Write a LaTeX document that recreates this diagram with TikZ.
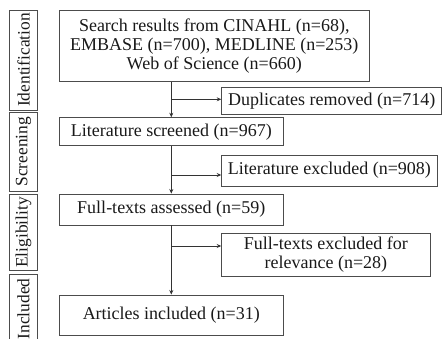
\documentclass[tikz,border=0pt]{standalone}
\usepackage{fontspec}
\setmainfont{Liberation Serif}
\usetikzlibrary{arrows.meta}
\begin{document}
\begin{tikzpicture}[x=1pt,y=1pt,
  box/.style={draw=black!70,line width=0.9pt,inner sep=0pt,align=center,font=\fontsize{18}{18.8}\selectfont,text=black!90},
  lab/.style={draw=black!70,line width=0.9pt,inner sep=0pt,rotate=90,font=\fontsize{17.4}{19}\selectfont,text=black!90},
  conn/.style={draw=black!80,line width=0.9pt},
  arr/.style={conn,-{Stealth[length=4.5pt,width=4pt]}}]
\useasboundingbox (0,0) rectangle (444,338);
% stage labels (rotated: minimum width = vertical extent)
\node[lab,minimum width=100,minimum height=28.4] (idlab) at (23.5,278) {Identification};
\node[lab,minimum width=79.7,minimum height=28.4] (scrlab) at (23.5,186.15) {Screening};
\node[lab,minimum width=76.7,minimum height=28.4] (elilab) at (23.5,105.65) {Eligibility};
\node[lab,minimum width=70,minimum height=28.4] (inclab) at (23.5,29) {Included};
% main boxes
\node[box,minimum width=310,minimum height=71.7] (b1) at (214.3,292.15) {Search results from CINAHL (n=68),\\EMBASE (n=700), MEDLINE (n=253)\\Web of Science (n=660)};
\node[box,minimum width=220,minimum height=26.6] (dup) at (331.7,237) {Duplicates removed (n=714)};
\node[box,minimum width=224,minimum height=28] (b2) at (171.3,206.3) {Literature screened (n=967)};
\node[box,minimum width=215.3,minimum height=31] (lex) at (329.35,167.5) {Literature excluded (n=908)};
\node[box,minimum width=224,minimum height=31] (b3) at (171.3,128.5) {Full-texts assessed (n=59)};
\node[box,minimum width=208.3,minimum height=42.7] (fex) at (325.85,83.35) {Full-texts excluded for\\relevance (n=28)};
\node[box,minimum width=224,minimum height=40] (b4) at (171.3,23) {Articles included (n=31)};
% branch points
\coordinate (j1) at (171.7,238.7);
\coordinate (j2) at (171.7,163);
\coordinate (j3) at (171.7,92);
% connectors
\draw[arr] (b2.north |- b1.south) -- (b2.north);
\draw[arr] (j1) -- (dup.west |- j1);
\draw[arr] (b2.south) -- (b3.north);
\draw[arr] (j2) -- (lex.west |- j2);
\draw[arr] (b3.south) -- (b4.north);
\draw[arr] (j3) -- (fex.west |- j3);
\end{tikzpicture}
\end{document}
